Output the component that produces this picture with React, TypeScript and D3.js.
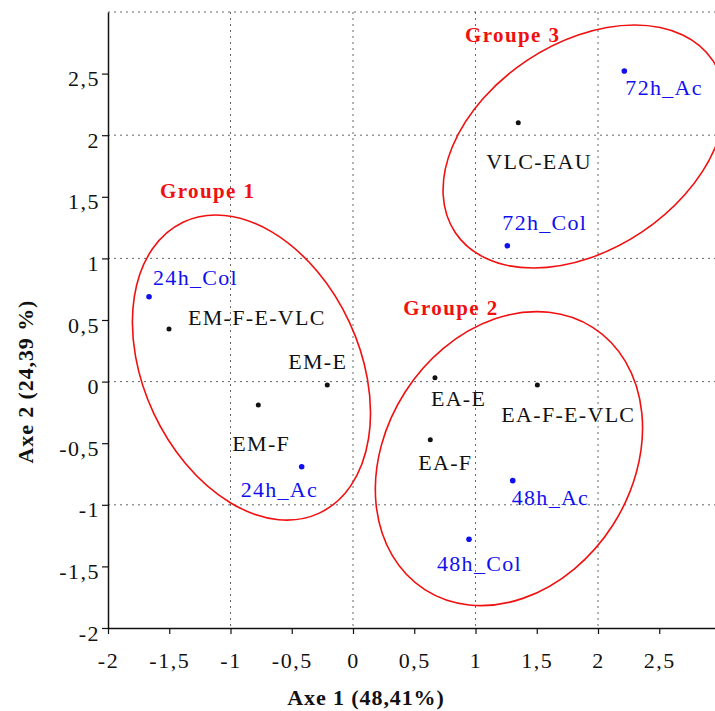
import React, { useEffect, useRef } from "react";
import * as d3 from "d3";

// points of the factorial map (Axe 1, Axe 2)
const names = [
  "24h_Col", "EM-F-E-VLC", "EM-E", "EM-F", "24h_Ac",
  "EA-E", "EA-F-E-VLC", "EA-F", "48h_Ac", "48h_Col",
  "VLC-EAU", "72h_Col", "72h_Ac",
];
const axe1 = [-1.665, -1.502, -0.21, -0.773, -0.419, 0.669, 1.505, 0.631, 1.304, 0.947, 1.349, 1.26, 2.215];
const axe2 = [0.689, 0.427, -0.028, -0.19, -0.691, 0.032, -0.028, -0.472, -0.804, -1.28, 2.101, 1.103, 2.521];
const kinds = ["t", "v", "v", "v", "t", "v", "v", "v", "t", "t", "v", "t", "t"]; // t = time sample (blue)

// group ellipses : centre, semi-axes (axis units), tilt (deg, screen)
const groupNames = ["Groupe 1", "Groupe 2", "Groupe 3"];
const groupCx = [-0.829, 1.273, 1.886];
const groupCy = [0.114, -0.625, 1.908];
const groupA = [1.311, 1.271, 1.264];
const groupB = [0.881, 1.007, 0.843];
const groupRot = [65, -57.3, -33.7];
const groupLabelX = [-1.576, 0.41, 0.914];
const groupLabelY = [1.49, 0.541, 2.759];

const xTicks = [-2, -1.5, -1, -0.5, 0, 0.5, 1, 1.5, 2, 2.5];
const yTicks = [-2, -1.5, -1, -0.5, 0, 0.5, 1, 1.5, 2, 2.5];
const gridVals = [-1, 0, 1, 2, 3];

// label offsets from the dot, px
const labelDx = [4, 19, -39, -26, -61, -4, -36, -12, -1, -32, -32, -5, 1];
const labelDy = [-12, -4, -16, 46, 30, 28, 37, 30, 24, 32, 46, -16, 24];

const FONT = "Liberation Serif, Times New Roman, Times, serif";

const fr = d3.formatLocale({ decimal: ",", thousands: ".", grouping: [3], currency: ["", ""], minus: "-" });
const fmt = fr.format("~g");

const App = () => {
  const ref = useRef();

  useEffect(() => {
    document.body.style.margin = "0";
    const width = 715;
    const height = 711;
    const x = d3.scaleLinear([-2, 3], [108, 720.5]);
    const y = d3.scaleLinear([-2, 3], [628, 12]);
    const unit = x(1) - x(0);

    const svg = d3.select(ref.current);
    svg.selectAll("*").remove();
    svg.attr("width", width).attr("height", height).attr("viewBox", [0, 0, width, height])
      .style("font-family", FONT);

    // grid
    const grid = svg.append("g").attr("stroke", "#666").attr("stroke-dasharray", "2 4").attr("stroke-width", 1);
    grid.selectAll(".h").data(gridVals).join("line")
      .attr("x1", x(-2)).attr("x2", width).attr("y1", (d) => y(d)).attr("y2", (d) => y(d));
    grid.selectAll(".v").data(gridVals).join("line")
      .attr("y1", y(3)).attr("y2", y(-2)).attr("x1", (d) => x(d)).attr("x2", (d) => x(d));

    // axes
    const yAxis = svg.append("g").attr("transform", `translate(${x(-2)},0)`)
      .call(d3.axisLeft(y).tickValues(yTicks).tickFormat(fmt).tickSize(6).tickSizeOuter(0).tickPadding(2));
    const xAxis = svg.append("g").attr("transform", `translate(0,${y(-2)})`)
      .call(d3.axisBottom(x).tickValues(xTicks).tickFormat(fmt).tickSize(6).tickSizeOuter(0).tickPadding(18));
    [xAxis, yAxis].forEach((g) => {
      g.attr("font-family", null).attr("font-size", 22);
      g.select(".domain").attr("stroke", "#111").attr("stroke-width", 1.5);
      g.selectAll(".tick line").attr("stroke", "#111").attr("stroke-width", 1.2);
      g.selectAll(".tick text").attr("fill", "#111").style("letter-spacing", "1.5px");
    });
    yAxis.selectAll(".tick text").attr("dy", "0.55em");
    xAxis.selectAll(".tick text").attr("dy", "0.71em");

    // ellipses
    svg.append("g").selectAll("ellipse").data(groupNames).join("ellipse")
      .attr("cx", 0).attr("cy", 0)
      .attr("rx", (d, i) => groupA[i] * unit)
      .attr("ry", (d, i) => groupB[i] * unit)
      .attr("transform", (d, i) => `translate(${x(groupCx[i])},${y(groupCy[i])}) rotate(${groupRot[i]})`)
      .attr("fill", "none").attr("stroke", "#f01010").attr("stroke-width", 1.6);

    svg.append("g").selectAll("text").data(groupNames).join("text")
      .attr("x", (d, i) => x(groupLabelX[i])).attr("y", (d, i) => y(groupLabelY[i]))
      .attr("font-size", 21).attr("font-weight", "bold")
      .attr("fill", "#f01010").style("letter-spacing", "1.4px").text((d) => d);

    // points
    const color = (i) => (kinds[i] === "t" ? "#1010ee" : "#111");
    const pts = svg.append("g");
    pts.selectAll("circle").data(names).join("circle")
      .attr("cx", (d, i) => x(axe1[i])).attr("cy", (d, i) => y(axe2[i]))
      .attr("r", (d, i) => (kinds[i] === "t" ? 2.8 : 2.5))
      .attr("fill", (d, i) => color(i));
    pts.selectAll("text").data(names).join("text")
      .attr("x", (d, i) => x(axe1[i]) + labelDx[i]).attr("y", (d, i) => y(axe2[i]) + labelDy[i])
      .attr("font-size", 22)
      .attr("fill", (d, i) => color(i)).style("letter-spacing", "1.3px").text((d) => d);

    // axis titles
    svg.append("text").attr("x", 366).attr("y", 705).attr("text-anchor", "middle")
      .attr("font-size", 22).attr("font-weight", "bold")
      .attr("fill", "#111").style("letter-spacing", "0.9px").text("Axe 1 (48,41%)");
    svg.append("text").attr("transform", `translate(33,${y(0)}) rotate(-90)`).attr("text-anchor", "middle")
      .attr("font-size", 22).attr("font-weight", "bold")
      .attr("fill", "#111").style("letter-spacing", "0.9px").text("Axe 2 (24,39 %)");
  }, []);

  return <svg ref={ref}></svg>;
};

export default App;
